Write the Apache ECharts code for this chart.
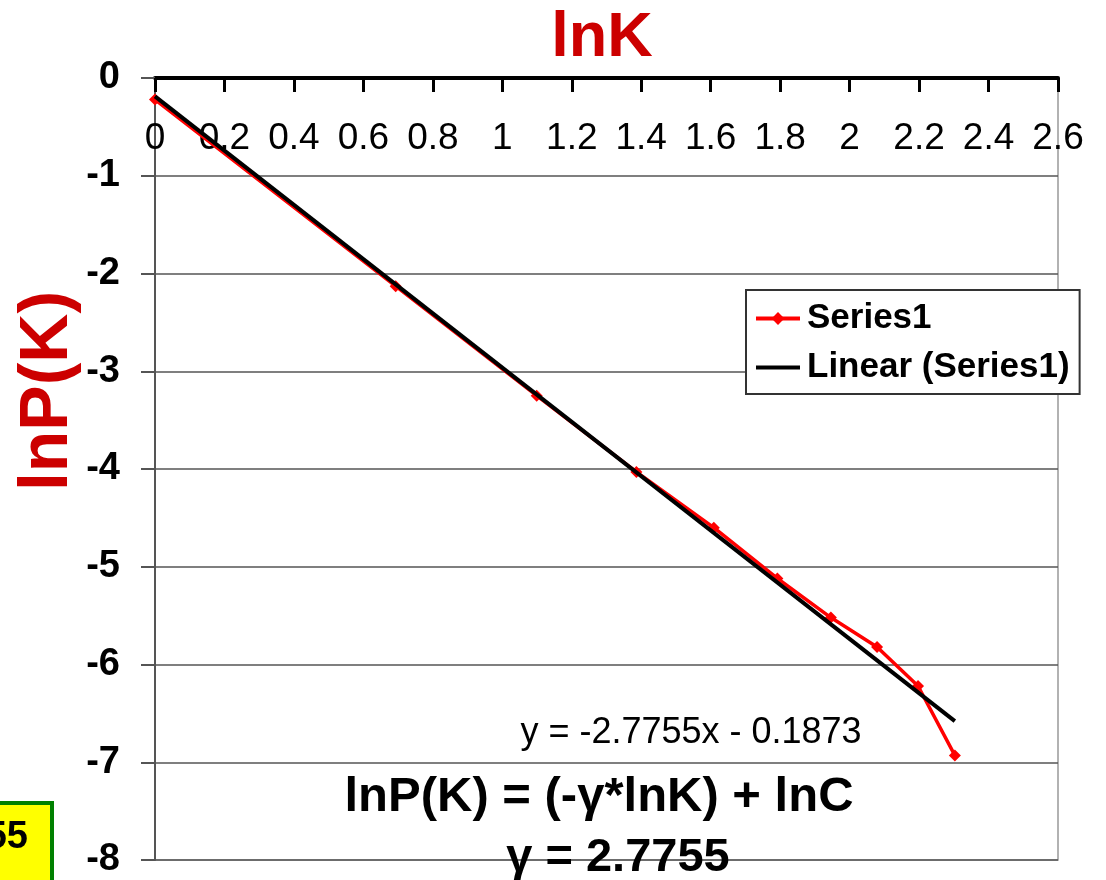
<!DOCTYPE html>
<html>
<head>
<meta charset="utf-8">
<script src="https://cdn.jsdelivr.net/npm/echarts@6/dist/echarts.min.js"></script>
<style>html,body{margin:0;padding:0;background:#fff;}#chart{width:1106px;height:880px;}</style>
</head>
<body>
<div id="chart"></div>
<script>
// ---- data ----
const lnK = [0, 0.693, 1.099, 1.386, 1.609, 1.792, 1.946, 2.079, 2.197, 2.303];
const lnPK = [-0.22, -2.13, -3.25, -4.03, -4.60, -5.12, -5.52, -5.82, -6.22, -6.93];
const trendSlope = -2.7755;
const trendIntercept = -0.1873;
const trendRange = [0, 2.303];
const seriesNames = ['Series1', 'Linear (Series1)'];
const titleText = 'lnK';
const yTitleText = 'lnP(K)';
const eqText = 'y = -2.7755x - 0.1873';
const formulaText = 'lnP(K) = (-γ*lnK) + lnC';
const gammaText = 'γ = 2.7755';
const boxText = '2.7755';

const F = '"Liberation Sans", Arial, sans-serif';
const chart = echarts.init(document.getElementById('chart'));
const pts = lnK.map((x, i) => [x, lnPK[i]]);
const trend = trendRange.map(x => [x, trendSlope * x + trendIntercept]);

chart.setOption({
  animation: false,
  backgroundColor: '#fff',
  grid: { left: 155, right: 48, top: 78, bottom: 20, show: true, borderColor: '#999', borderWidth: 1.5 },
  xAxis: {
    type: 'value', position: 'top', min: 0, max: 2.6, interval: 0.2,
    axisLine: { onZero: false, lineStyle: { color: '#000', width: 4 } },
    axisTick: { inside: true, length: 14, lineStyle: { color: '#000', width: 3 } },
    axisLabel: { inside: true, margin: 42, fontSize: 37, color: '#000', fontFamily: F },
    splitLine: { show: false }
  },
  yAxis: {
    type: 'value', min: -8, max: 0, interval: 1,
    axisLine: { show: true, onZero: false, lineStyle: { color: '#555', width: 2 } },
    axisTick: { show: true, length: 14, lineStyle: { color: '#555', width: 2 } },
    axisLabel: { margin: 35, fontSize: 38, fontWeight: 'bold', color: '#000', fontFamily: F },
    splitLine: { lineStyle: { color: '#555', width: 1.5 } }
  },
  legend: {
    orient: 'vertical', left: 746, top: 290,
    data: [
      { name: seriesNames[0], lineStyle: { width: 4, color: '#ff0000' } },
      { name: seriesNames[1], itemStyle: { opacity: 0 }, lineStyle: { width: 4, color: '#000' } }
    ],
    backgroundColor: '#fff', borderColor: '#333', borderWidth: 2,
    padding: [11, 10, 9, 8], itemGap: 14, itemWidth: 44, itemHeight: 16,
    textStyle: { fontSize: 35, fontWeight: 'bold', color: '#000', fontFamily: F, padding: [0, 0, 0, 2] }
  },
  series: [
    {
      name: seriesNames[0], type: 'line', data: pts,
      lineStyle: { color: '#ff0000', width: 3.5 }, itemStyle: { color: '#ff0000' },
      symbol: 'diamond', symbolSize: 12, z: 2
    },
    {
      name: seriesNames[1], type: 'line', data: trend,
      lineStyle: { color: '#000', width: 4 }, itemStyle: { color: '#000' },
      symbol: 'none', showSymbol: false, z: 3
    }
  ],
  graphic: [
    { type: 'text', x: 602, y: 39, style: { text: titleText, fontSize: 63, fontWeight: 'bold', fill: '#cc0000', fontFamily: F, textAlign: 'center', textVerticalAlign: 'middle' } },
    { type: 'text', x: 48, y: 391, rotation: Math.PI / 2, style: { text: yTitleText, fontSize: 68, fontWeight: 'bold', fill: '#cc0000', fontFamily: F, textAlign: 'center', textVerticalAlign: 'middle' } },
    { type: 'text', x: 691, y: 733, style: { text: eqText, fontSize: 36, fill: '#000', fontFamily: F, textAlign: 'center', textVerticalAlign: 'middle' } },
    { type: 'text', x: 599, y: 797, z: 10, style: { text: formulaText, fontSize: 49, fontWeight: 'bold', fill: '#000', fontFamily: F, textAlign: 'center', textVerticalAlign: 'middle' } },
    { type: 'text', x: 618, y: 858, z: 10, style: { text: gammaText, fontSize: 47, fontWeight: 'bold', fill: '#000', fontFamily: F, textAlign: 'center', textVerticalAlign: 'middle' } },
    { type: 'rect', shape: { x: -100, y: 803, width: 152, height: 120 }, style: { fill: '#ffff00', stroke: '#008000', lineWidth: 4 } },
    { type: 'text', x: 28, y: 838, style: { text: boxText, fontSize: 38, fontWeight: 'bold', fill: '#000', fontFamily: F, textAlign: 'right', textVerticalAlign: 'middle' } }
  ]
});
</script>
</body>
</html>
